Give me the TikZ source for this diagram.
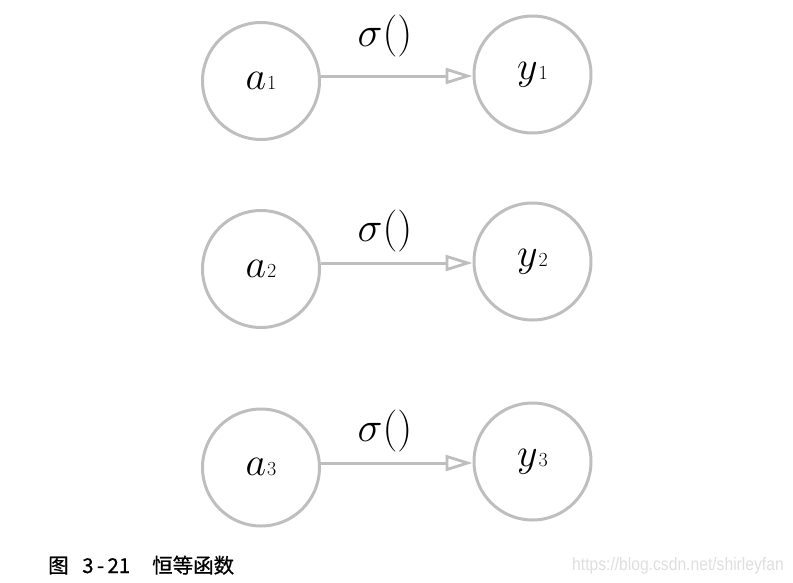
\RequirePackage{fix-cm}
\documentclass[tikz,border=0pt]{standalone}
\usepackage{fontspec}
\usepackage{graphicx}
\newfontfamily\cjk[FakeBold=0.6]{Noto Sans CJK SC}
\newfontfamily\wmfont{Liberation Sans}
\usetikzlibrary{arrows.meta}
\definecolor{ringgray}{RGB}{190,190,190}
\definecolor{wmgray}{RGB}{222,222,222}
\tikzset{
  unit/.style={circle, draw=ringgray, line width=3pt, minimum size=117pt, inner sep=0pt,
    font=\fontsize{40}{40}\selectfont},
  arr/.style={draw=ringgray, line width=3pt, -{Triangle[open, length=27pt, width=16pt, line width=2.8pt]}},
  fn/.style={inner sep=0pt, font=\fontsize{42}{42}\selectfont}
}
\newcommand{\lbl}[2]{$#1$\kern1pt{\fontsize{20}{20}\selectfont #2}}
\begin{document}
\begin{tikzpicture}[x=1pt,y=1pt]
\useasboundingbox (0,0) rectangle (793,-582);
% row 1
\node[unit] (a1) at (261,-81) {\lbl{a}{1}};
\node[unit] (y1) at (532.5,-74.5) {\lbl{y}{1}};
\coordinate (m1) at (396,-76);
\draw[arr] (a1.east |- m1) -- (y1.west |- m1);
\node[fn] (s1) at (385,-36) {$\sigma()$};
% row 2
\node[unit] (a2) at (261,-269) {\lbl{a}{2}};
\node[unit] (y2) at (532.5,-261.5) {\lbl{y}{2}};
\coordinate (m2) at (396,-263);
\draw[arr] (a2.east |- m2) -- (y2.west |- m2);
\node[fn] (s2) at (385,-231) {$\sigma()$};
% row 3
\node[unit] (a3) at (261,-467.5) {\lbl{a}{3}};
\node[unit] (y3) at (532.5,-461.5) {\lbl{y}{3}};
\coordinate (m3) at (396,-463);
\draw[arr] (a3.east |- m3) -- (y3.west |- m3);
\node[fn] (s3) at (385,-431) {$\sigma()$};
% caption
\node[anchor=base west, inner sep=0pt, font=\cjk\fontsize{20.5}{20.5}\selectfont] (cap) at (48,-573)
  {\makebox[34pt][l]{图}\makebox[70pt][l]{3\,-\,21}恒等函数};
% watermark
\node[anchor=base west, inner sep=0pt, text=wmgray] (wm) at (572,-570)
  {\scalebox{0.87}[1]{\wmfont\fontsize{18}{18}\selectfont https://blog.csdn.net/shirleyfan}};
\end{tikzpicture}
\end{document}
